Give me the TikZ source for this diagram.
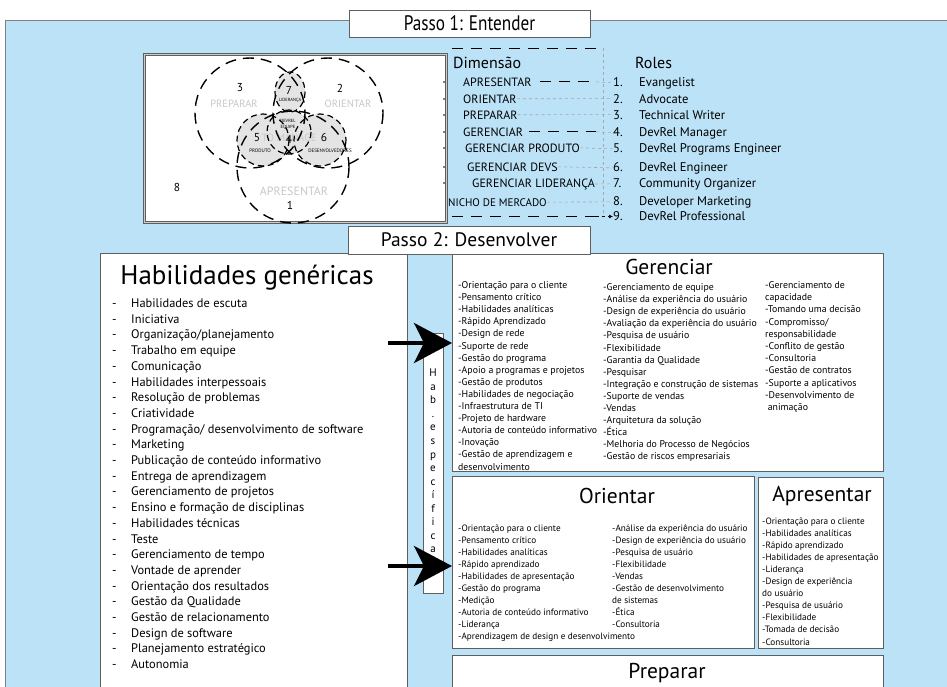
\documentclass[tikz,border=0pt]{standalone}
\usepackage{fontspec}
\setmainfont{PT Sans}
\newfontfamily\narrowf{PT Sans}[FakeStretch=0.82]
\usetikzlibrary{arrows.meta}
\definecolor{bgblue}{RGB}{188,226,247}
\definecolor{boxline}{RGB}{95,95,95}
\definecolor{venngray}{RGB}{228,228,228}
\definecolor{faint}{RGB}{200,200,200}
\newcommand{\setfs}[2]{\fontsize{#1}{#2}\selectfont}
\begin{document}
\begin{tikzpicture}[x=1pt,y=-1pt,
  box/.style={draw=boxline, fill=white, line width=0.9pt, inner sep=0pt},
  boxtitle/.style={inner sep=0pt, anchor=base, font=\setfs{21.5}{24}},
  itm/.style={inner sep=0pt, anchor=base west, font=\setfs{9.8}{11}},
  itms/.style={inner sep=0pt, anchor=base west, font=\setfs{9.2}{10}},
  gen/.style={inner sep=0pt, anchor=base west, font=\setfs{12.4}{14}},
  dimitem/.style={inner sep=0pt, anchor=base west, font=\setfs{12}{13}},
  roleitem/.style={inner sep=0pt, anchor=base west, font=\setfs{12.6}{14}},
  bigc/.style={line width=1.4pt, dash pattern=on 11pt off 7pt},
  smallc/.style={line width=1.2pt, dash pattern=on 6pt off 4pt},
  vnum/.style={inner sep=0pt, font=\setfs{11.5}{12}},
  vfaint/.style={inner sep=0pt, text=faint, font=\setfs{10.5}{12}},
  vtiny/.style={inner sep=0pt, font=\setfs{4.5}{5}},
  strongdash/.style={line width=0.8pt, dash pattern=on 11pt off 8pt},
  lightdash/.style={line width=0.6pt, gray!70, dash pattern=on 3pt off 3pt},
  bigarrow/.style={line width=4pt, -{Stealth[length=38pt,width=40pt,inset=10pt]}}
]
\useasboundingbox (0,0) rectangle (947,686);
\clip (0,0) rectangle (947,686);

% background
\path[fill=bgblue, draw=gray, line width=0.8pt] (5,20) rectangle (960,700);

% ===== Passo 1 area =====
\node[fill=white, draw=boxline, line width=0.6pt, double=gray!40, double distance=1.2pt,
      minimum width=302, minimum height=168, anchor=north west, inner sep=0pt] (venn) at (144,54) {};

% inner gray trefoil
\fill[venngray] (263,140) circle (26);
\fill[venngray] (320,140) circle (26);
\fill[venngray] (289,132) circle (22);
\fill[venngray] (290,92) ellipse (15 and 20);
\node[vfaint] (tomanage) at (289,138) {TO MANAGE};

% big circles
\draw[bigc] (250,113) circle (55);
\draw[bigc] (328,113) circle (55);
\draw[bigc] (293,167) circle (56);
% small circles
\draw[smallc] (263,140) circle (26);
\draw[smallc] (320,140) circle (26);
\draw[smallc] (289,132) circle (22);
\draw[smallc] (290,92) ellipse (15 and 20);

\node[vnum] (n3) at (240,88) {3};
\node[vnum] (n2) at (340,88) {2};
\node[vfaint] (lprep) at (234,104) {PREPARAR};
\node[vfaint] (lori) at (348,104) {ORIENTAR};
\node[vnum] (n7) at (289,90) {7};
\node[vtiny] (llid) at (290,100) {LIDERANÇA};
\node[vtiny] (ldev) at (288,121) {DEVREL};
\node[vtiny] (lequ) at (288,127) {EQUIPE};
\node[vnum] (n5) at (257,138) {5};
\node[vnum] (n4) at (289,139) {4};
\node[vnum] (n6) at (324,137) {6};
\node[vtiny, font=\setfs{5}{6}] (lprod) at (260,151) {PRODUTO};
\node[vtiny, font=\setfs{5}{6}] (ldes) at (330,151) {DESENVOLVEDORES};
\node[vnum] (n8) at (177,187) {8};
\node[vfaint, font=\setfs{12}{13}] (lapr) at (294,191) {APRESENTAR};
\node[vnum] (n1) at (290,205) {1};

% dots at venn box edge
\foreach \y [count=\k] in {82,99,115,132,148,167,183}
  \fill (444,\y) circle (0.9);

% Dimensão / Roles
\node[inner sep=0pt, anchor=base west, font=\setfs{16}{18}] (dimh) at (453,68) {Dimensão};
\node[inner sep=0pt, anchor=base west, font=\setfs{16}{18}] (rolh) at (635,68) {Roles};

\node[dimitem] (d1) at (463,86) {APRESENTAR};
\node[dimitem] (d2) at (463,103) {ORIENTAR};
\node[dimitem] (d3) at (463,119) {PREPARAR};
\node[dimitem] (d4) at (463,136) {GERENCIAR};
\node[dimitem] (d5) at (465,152) {GERENCIAR PRODUTO};
\node[dimitem] (d6) at (467,171) {GERENCIAR DEVS};
\node[dimitem] (d7) at (472,187) {GERENCIAR LIDERANÇA};
\node[dimitem, font=\setfs{11}{12}] (d8) at (448,206) {NICHO DE MERCADO};

\foreach \n/\t/\y in {1/Evangelist/86, 2/Advocate/103, 3/Technical Writer/119,
   4/DevRel Manager/136, 5/DevRel Programs Engineer/152, 6/DevRel Engineer/171,
   7/Community Organizer/187, 8/Developer Marketing/205, 9/DevRel Professional/220}
  \node[roleitem] (r\n) at (613,\y) {\makebox[26pt][l]{\n.}\t};

% dashed frame
\coordinate (ftl) at (452,48);
\coordinate (ftr) at (603,48);
\coordinate (fbl) at (452,216.5);
\draw[strongdash] (ftl) -- (ftr);
\draw[lightdash] (ftr) -- (ftr |- fbl);
\draw[strongdash] (fbl) -- (fbl -| 596,0);
\draw[lightdash, -{Latex[length=4pt,width=4pt]}, black] (596,216.5) -- (fbl -| r9.west);

% connectors dimension -> role
\draw[strongdash] (d1.east) ++(8,0) coordinate (c1s) (c1s) -- (c1s -| 596,0);
\draw[lightdash] (d1.east -| 596,0) -- (r1.west);
\draw[lightdash] (d2.east) -- (r2.west);
\draw[lightdash] (d3.east) -- (r3.west);
\draw[strongdash] (d4.east) ++(6,0) coordinate (c4s) (c4s) -- (c4s -| 596,0);
\draw[lightdash] (d4.east -| 596,0) -- (r4.west);
\draw[lightdash] (d5.east) -- (r5.west);
\draw[lightdash] (d6.east) -- (r6.west);
\draw[lightdash] (d7.east) -- (r7.west);
\draw[lightdash] (d8.east) -- (r8.west);

% ===== Passo 2 area =====
\node[box, minimum width=307, minimum height=460, anchor=north west] (habg) at (100,253) {};
\node[box, minimum width=431, minimum height=218, anchor=north west] (ger) at (452,253) {};
\node[box, minimum width=302, minimum height=172, anchor=north west] (ori) at (452,476) {};
\node[box, minimum width=125, minimum height=171, anchor=north west] (apr) at (758,477) {};
\node[box, minimum width=431, minimum height=60, anchor=north west] (pre) at (452,655) {};

\node[box, minimum width=241, minimum height=27] (p1) at (469.5,23.5) {\narrowf\setfs{21}{22}Passo 1: Entender};
\node[box, minimum width=242, minimum height=28] (p2) at (469,240) {\setfs{19.5}{22}Passo 2: Desenvolver};

% Habilidades genericas
\node[inner sep=0pt, anchor=base, font=\setfs{27}{30}] (thab) at (247,284) {Habilidades genéricas};
\foreach \t [count=\i from 0] in {Habilidades de escuta, Iniciativa, Organização/planejamento,
  Trabalho em equipe, Comunicação, Habilidades interpessoais, Resolução de problemas,
  Criatividade, Programação/ desenvolvimento de software, Marketing,
  Publicação de conteúdo informativo, Entrega de aprendizagem, Gerenciamento de projetos,
  Ensino e formação de disciplinas, Habilidades técnicas, Teste, Gerenciamento de tempo,
  Vontade de aprender, Orientação dos resultados, Gestão da Qualidade,
  Gestão de relacionamento, Design de software, Planejamento estratégico, Autonomia}
{
  \node[gen] (hd\i) at (112,307.5+15.7*\i) {-};
  \node[gen] (hg\i) at (131,307.5+15.7*\i) {\t};
}

% Hab. especifica
\node[box, minimum width=20, minimum height=260, anchor=north west] (hespbox) at (423,333) {};
\node[inner sep=0pt, align=center, font=\setfs{11}{13.55}] (hesp) at (433,461)
  {H\\a\\b\\.\\e\\s\\p\\e\\c\\í\\f\\i\\c\\a};

\coordinate (a1) at (388,343);
\coordinate (a2) at (388,566);
\draw[bigarrow] (a1) -- (a1 -| ger.west);
\draw[bigarrow] (a2) -- (a2 -| ori.west);

% Gerenciar
\node[boxtitle] (tger) at (669,274) {Gerenciar};
\foreach \t [count=\i from 0] in {-Orientação para o cliente, -Pensamento crítico,
  -Habilidades analíticas, -Rápido Aprendizado, -Design de rede, -Suporte de rede,
  -Gestão do programa, -Apoio a programas e projetos, -Gestão de produtos,
  -Habilidades de negociação, -Infraestrutura de TI, -Projeto de hardware,
  -Autoria de conteúdo informativo, -Inovação, -Gestão de aprendizagem e, desenvolvimento}
  \node[itm] (ga\i) at (458,288.5+12.1*\i) {\t};
\foreach \t [count=\i from 0] in {-Gerenciamento de equipe, -Análise da experiência do usuário,
  -Design de experiência do usuário, -Avaliação da experiência do usuário,
  -Pesquisa de usuário, -Flexibilidade, -Garantia da Qualidade, -Pesquisar,
  -Integração e construção de sistemas, -Suporte de vendas, -Vendas,
  -Arquitetura da solução, -Ética, -Melhoria do Processo de Negócios,
  -Gestão de riscos empresariais}
  \node[itm] (gb\i) at (603,290.5+12.1*\i) {\t};
\foreach \t [count=\i from 0] in {-Gerenciamento de, capacidade, -Tomando uma decisão,
  -Compromisso/, responsabilidade, -Conflito de gestão, -Consultoria,
  -Gestão de contratos, -Suporte a aplicativos, -Desenvolvimento de, \ animação}
  \node[itm] (gc\i) at (765,288.5+12.2*\i) {\t};

% Orientar
\node[boxtitle] (tori) at (617,503) {Orientar};
\foreach \t [count=\i from 0] in {-Orientação para o cliente, -Pensamento crítico,
  -Habilidades analíticas, -Rápido aprendizado, -Habilidades de apresentação,
  -Gestão do programa, -Medição, -Autoria de conteúdo informativo, -Liderança,
  -Aprendizagem de design e desenvolvimento}
  \node[itms] (oa\i) at (458,531+12.1*\i) {\t};
\foreach \t [count=\i from 0] in {-Análise da experiência do usuário,
  -Design de experiência do usuário, -Pesquisa de usuário, -Flexibilidade, -Vendas,
  -Gestão de desenvolvimento, de sistemas, -Ética, -Consultoria}
  \node[itms] (ob\i) at (612,531+12.1*\i) {\t};

% Apresentar
\node[boxtitle] (tapr) at (822,501) {Apresentar};
\foreach \t [count=\i from 0] in {-Orientação para o cliente, -Habilidades analíticas,
  -Rápido aprendizado, -Habilidades de apresentação, -Liderança,
  -Design de experiência, do usuário, -Pesquisa de usuário, -Flexibilidade,
  -Tomada de decisão, -Consultoria}
  \node[itms] (ap\i) at (762,524+12.1*\i) {\t};

% Preparar
\node[boxtitle] (tpre) at (667,678) {Preparar};
\end{tikzpicture}
\end{document}
